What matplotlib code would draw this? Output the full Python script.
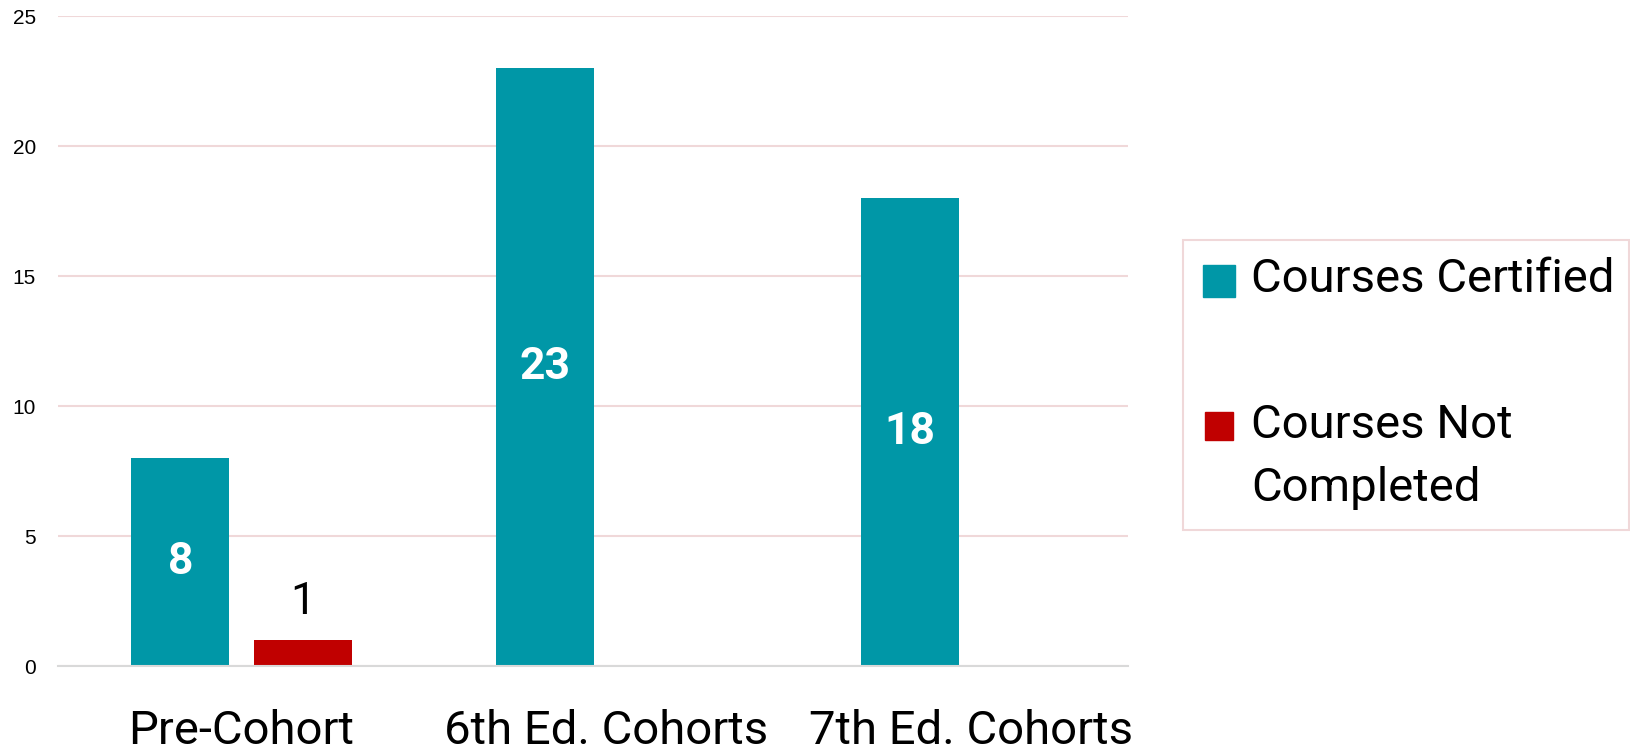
import matplotlib.pyplot as plt
from matplotlib.patches import Rectangle
import numpy as np

categories = ["Pre-Cohort", "6th Ed. Cohorts", "7th Ed. Cohorts"]
certified = [8, 23, 18]
not_completed = [1, None, None]
series_names = ["Courses Certified", "Courses Not\nCompleted"]
colors = ["#0097a7", "#c00000"]

plt.rcParams['font.family'] = ['Roboto', 'DejaVu Sans']

W, H = 1631, 755
fig = plt.figure(figsize=(W / 100, H / 100), dpi=100)
ax = fig.add_axes([58 / W, 1 - 666 / H, (1128 - 58) / W, (666 - 16) / H])

x = np.arange(len(categories))
width = 0.268
off = 0.168

b1 = ax.bar(x - off, certified, width, color=colors[0], zorder=3)
nc_vals = [v if v is not None else 0 for v in not_completed]
b2 = ax.bar(x + off, nc_vals, width, color=colors[1], zorder=3)

for rect, v in zip(b1, certified):
    ax.text(rect.get_x() + rect.get_width() / 2, v / 2, str(v), ha='center', va='center',
            color='white', fontsize=32, fontweight='bold', zorder=4)
for rect, v in zip(b2, not_completed):
    if v is None:
        continue
    ax.annotate(str(v), (rect.get_x() + rect.get_width() / 2, v), xytext=(0, 12),
                textcoords='offset points', ha='center', va='bottom', fontsize=32, zorder=4)

ax.set_xlim(-0.503, 2.429)
ax.set_ylim(0, 25)
ax.set_yticks([0, 5, 10, 15, 20, 25])
ax.set_xticks(x)
ax.set_xticklabels(categories, fontsize=34)
ax.tick_params(axis='x', length=0, pad=31)
ax.tick_params(axis='y', length=0, pad=16)
for lab in ax.get_yticklabels():
    lab.set_fontfamily(['Liberation Sans', 'DejaVu Sans'])
    lab.set_fontsize(15)

ax.grid(axis='y', color='#f0d8d9', linewidth=1.5, zorder=0)
ax.set_axisbelow(True)
for s in ['top', 'right', 'left']:
    ax.spines[s].set_visible(False)
ax.spines['bottom'].set_color('#d9d9d9')
ax.spines['bottom'].set_linewidth(1.5)
ax.spines['bottom'].set_zorder(5)

# legend drawn by hand so the marker sits on the first text line
tr = fig.transFigure
def px(xp, yp):
    return xp / W, 1 - yp / H

lx0, ly0 = px(1183, 530)
fig.patches.append(Rectangle((lx0, ly0), (1629 - 1183) / W, (530 - 240) / H, transform=tr,
                             fill=False, edgecolor='#f0d8d9', linewidth=1.5))

# first entry
sx, sy = px(1203, 297)
fig.patches.append(Rectangle((sx, sy), 32 / W, 32 / H, transform=tr, color=colors[0]))
tx, ty = px(1251, 279)
fig.text(tx, ty, series_names[0], fontsize=34, va='center', ha='left')

# second entry, one text per line
sx, sy = px(1205, 440)
fig.patches.append(Rectangle((sx, sy), 28 / W, 28 / H, transform=tr, color=colors[1]))
for line, yc in zip(series_names[1].split("\n"), [425, 488]):
    tx, ty = px(1251, yc)
    fig.text(tx, ty, line, fontsize=34, va='center', ha='left')

fig.savefig("out.png", dpi=100)
